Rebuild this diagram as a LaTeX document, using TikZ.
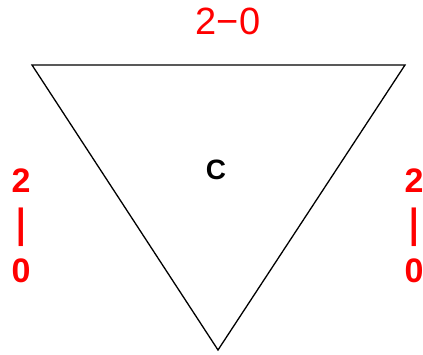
\documentclass[tikz,border=0pt]{standalone}
\usepackage{fontspec}
\setmainfont{Liberation Sans}
\tikzset{
  score/.style={text=red, inner sep=0pt},
  sidescore/.style={score, align=center, font=\bfseries\fontsize{34}{45}\selectfont},
}
\begin{document}
\begin{tikzpicture}[x=1pt,y=-1pt]
      \useasboundingbox (0,0) rectangle (423,355);
      \coordinate (tl) at (32,65);
      \coordinate (tr) at (405,65);
      \coordinate (bt) at (218,350);
      \draw[line width=1.3pt, line join=miter] (tl) -- (tr) -- (bt) -- cycle;

      \node[font=\bfseries\fontsize{28}{30}\selectfont, inner sep=0pt] (c) at (216,170) {C};
      \node[score, font=\fontsize{38}{40}\selectfont] (top) at (228,21) {2−0};
      \node[sidescore] (left) at (21,226) {2\\\scalebox{1}[1.2]{|}\\0};
      \node[sidescore] (right) at (414,226) {2\\\scalebox{1}[1.2]{|}\\0};
    \end{tikzpicture}
\end{document}
